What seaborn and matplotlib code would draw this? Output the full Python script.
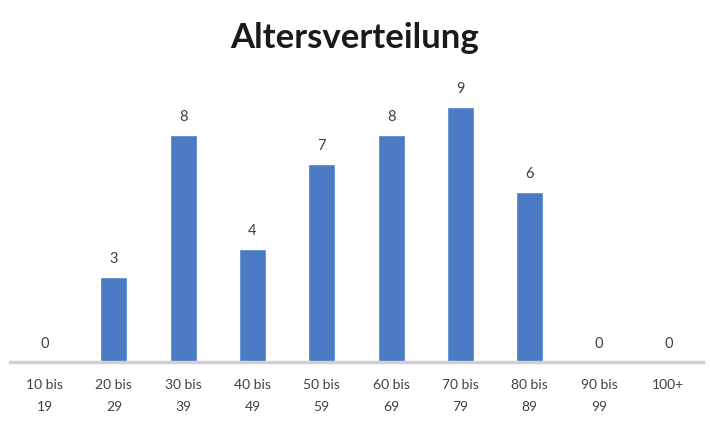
import numpy as np
import pandas as pd
import seaborn as sns
import matplotlib

matplotlib.use("Agg")
import matplotlib.pyplot as plt

# Data.
categories = ["10 bis\n19", "20 bis\n29", "30 bis\n39", "40 bis\n49", "50 bis\n59",
              "60 bis\n69", "70 bis\n79", "80 bis\n89", "90 bis\n99", "100+"]
counts = [0, 3, 8, 4, 7, 8, 9, 6, 0, 0]
title = "Altersverteilung"

df = pd.DataFrame({"group": categories, "count": counts})

sns.set_style("white")
plt.rcParams["font.family"] = ["Lato", "DejaVu Sans"]

fig = plt.figure(figsize=(7.1, 4.3), dpi=100)
ax = fig.add_axes([0.014, 0.158, 0.976, 0.626])

sns.barplot(data=df, x="group", y="count", color="#4A7BC4", saturation=1,
            width=0.39, ax=ax)

# Value labels above the bars.
for i, v in enumerate(counts):
    ax.annotate(str(v), xy=(i, v), xytext=(0, 8), textcoords="offset points",
                ha="center", va="bottom", fontsize=10.5, color="#404040")

ax.set_ylim(0, 9.5)
ax.set_xlim(-0.5, len(categories) - 0.5)
ax.set_yticks([])
ax.set_xlabel("")
ax.set_ylabel("")
ax.tick_params(axis="x", length=0, pad=12, labelsize=10, labelcolor="#404040")
for lbl in ax.get_xticklabels():
    lbl.set_linespacing(2.0)
sns.despine(ax=ax, left=True, top=True, right=True)
ax.spines["bottom"].set_color("#D0D0D0")
ax.spines["bottom"].set_linewidth(2.5)

fig.suptitle(title, x=0.5, y=0.95, fontsize=25, fontweight="bold", color="#1a1a1a")

fig.savefig("out.png", dpi=100)
plt.close()
